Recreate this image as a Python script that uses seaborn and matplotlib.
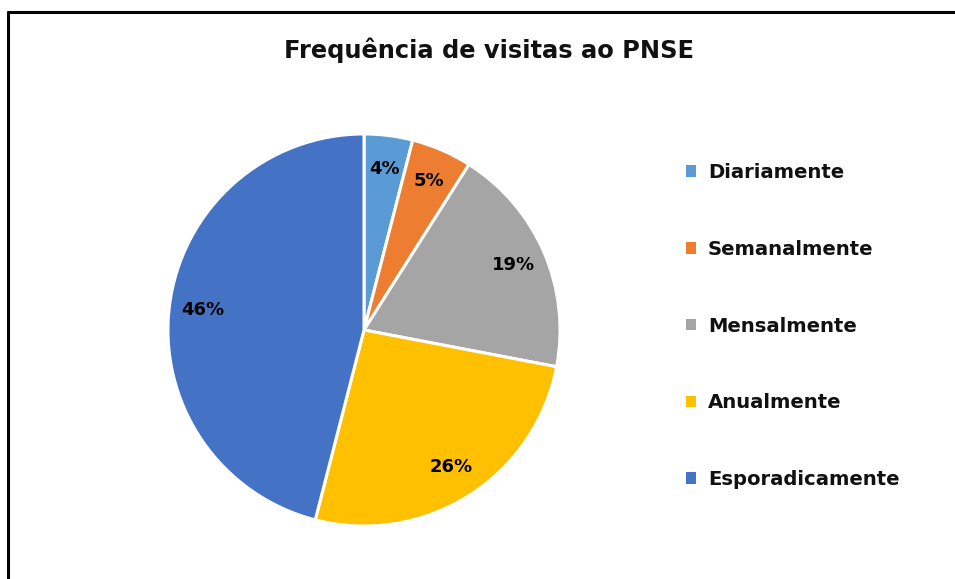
import matplotlib
matplotlib.use("Agg")
import matplotlib.pyplot as plt
from matplotlib.lines import Line2D
from matplotlib.patches import Patch
import seaborn as sns

# Visit frequency shares (%)
categories = ["Diariamente", "Semanalmente", "Mensalmente", "Anualmente", "Esporadicamente"]
shares = [4, 5, 19, 26, 46]
colors = ["#5B9BD5", "#ED7D31", "#A5A5A5", "#FFC000", "#4472C4"]
title = "Frequência de visitas ao PNSE"

sns.set_theme(style="white")
plt.rcParams["font.family"] = ["DejaVu Sans"]

W, H = 955, 579
fig = plt.figure(figsize=(W / 100, H / 100), dpi=100)
fig.patch.set_facecolor("white")

# Pie axes: centre and radius in pixels
cx, cy, r = 364, 330, 198
ax = fig.add_axes([(cx - r) / W, (H - cy - r) / H, 2 * r / W, 2 * r / H])
wedges, texts, autotexts = ax.pie(
    shares,
    colors=colors,
    startangle=90,
    counterclock=False,
    autopct="%.0f%%",
    pctdistance=0.83,
    radius=1.0,
    wedgeprops=dict(edgecolor="white", linewidth=2.2),
    textprops=dict(fontsize=13, fontweight="bold", color="black"),
)
ax.set_xlim(-1.01, 1.01)
ax.set_ylim(-1.01, 1.01)
ax.set_aspect("equal")
ax.axis("off")

fig.text(489 / W, 1 - 50 / H, title, ha="center", va="center",
         fontsize=17.4, fontweight="bold", color="#111111")

handles = [Patch(facecolor=c, edgecolor="none") for c in colors]
leg = fig.legend(
    handles, categories,
    loc="upper left",
    bbox_to_anchor=(686 / W, 1 - 163 / H),
    frameon=False,
    fontsize=14.15,
    handlelength=0.52, handleheight=0.52, handletextpad=0.6,
    labelspacing=2.94, borderaxespad=0, borderpad=0,
)
for t in leg.get_texts():
    t.set_fontweight("bold")
    t.set_color("#111111")

# Chart frame (top and left edges)
fig.add_artist(Line2D([8 / W, 8 / W], [0, 1 - 12 / H], color="black", linewidth=2.2,
                      transform=fig.transFigure))
fig.add_artist(Line2D([8 / W, 1], [1 - 12 / H, 1 - 12 / H], color="black", linewidth=2.2,
                      transform=fig.transFigure))

fig.savefig("out.png", dpi=100)
